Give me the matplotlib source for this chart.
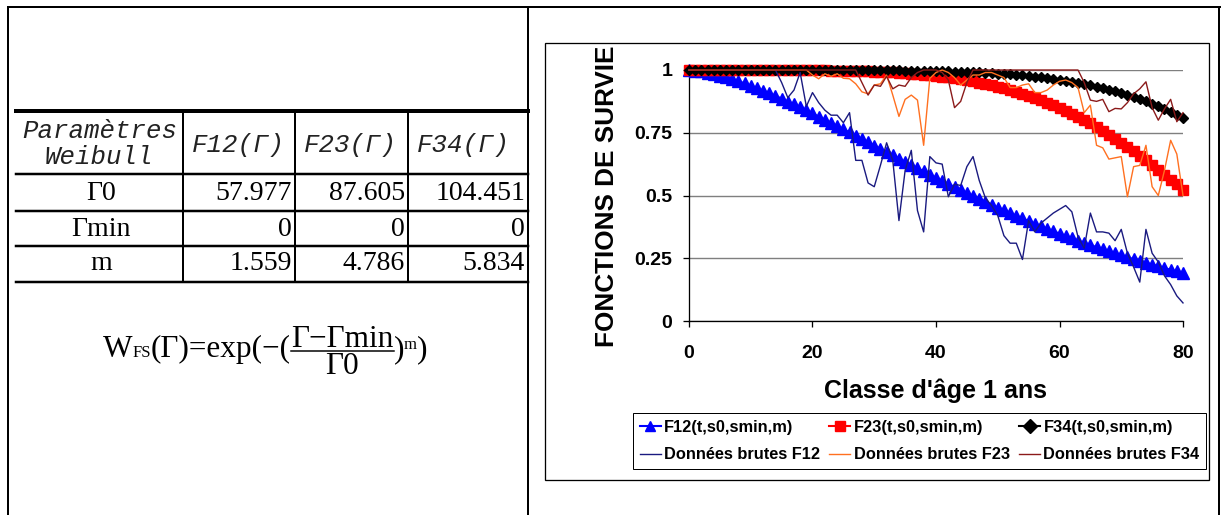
import matplotlib
matplotlib.use("Agg")
import matplotlib.pyplot as plt
from matplotlib.patches import Rectangle

W, H = 1221, 515

# Weibull parameter table
curve_names = ["F12(Γ)", "F23(Γ)", "F34(Γ)"]
gamma0 = [57.977, 87.605, 104.451]
gamma_min = [0, 0, 0]
shape_m = [1.559, 4.786, 5.834]

ages = list(range(0, 81))

# fitted Weibull survival, one value per age class
fit_f12 = [
    1.000, 0.998, 0.995, 0.990, 0.985, 0.978, 0.971, 0.964, 0.955, 0.947,
    0.937, 0.928, 0.918, 0.907, 0.897, 0.886, 0.874, 0.863, 0.851, 0.839,
    0.827, 0.814, 0.802, 0.789, 0.777, 0.764, 0.751, 0.738, 0.725, 0.712,
    0.699, 0.686, 0.673, 0.660, 0.647, 0.634, 0.621, 0.609, 0.596, 0.583,
    0.571, 0.558, 0.546, 0.534, 0.522, 0.510, 0.498, 0.486, 0.475, 0.463,
    0.452, 0.441, 0.430, 0.419, 0.409, 0.398, 0.388, 0.378, 0.368, 0.358,
    0.348, 0.339, 0.329, 0.320, 0.311, 0.303, 0.294, 0.286, 0.277, 0.269,
    0.261, 0.254, 0.246, 0.239, 0.232, 0.225, 0.218, 0.211, 0.204, 0.198,
    0.192]
fit_f23 = [
    1.000, 1.000, 1.000, 1.000, 1.000, 1.000, 1.000, 1.000, 1.000, 1.000,
    1.000, 1.000, 1.000, 1.000, 1.000, 1.000, 1.000, 1.000, 0.999, 0.999,
    0.999, 0.999, 0.999, 0.998, 0.998, 0.998, 0.997, 0.996, 0.996, 0.995,
    0.994, 0.993, 0.992, 0.991, 0.989, 0.988, 0.986, 0.984, 0.982, 0.979,
    0.977, 0.974, 0.971, 0.967, 0.964, 0.960, 0.955, 0.950, 0.945, 0.940,
    0.934, 0.928, 0.921, 0.914, 0.906, 0.898, 0.889, 0.880, 0.870, 0.860,
    0.849, 0.838, 0.826, 0.814, 0.800, 0.787, 0.773, 0.758, 0.743, 0.727,
    0.711, 0.694, 0.676, 0.659, 0.640, 0.622, 0.603, 0.583, 0.563, 0.544,
    0.523]
fit_f34 = [
    1.000, 1.000, 1.000, 1.000, 1.000, 1.000, 1.000, 1.000, 1.000, 1.000,
    1.000, 1.000, 1.000, 1.000, 1.000, 1.000, 1.000, 1.000, 1.000, 1.000,
    1.000, 1.000, 1.000, 1.000, 1.000, 1.000, 1.000, 1.000, 1.000, 0.999,
    0.999, 0.999, 0.999, 0.999, 0.999, 0.998, 0.998, 0.998, 0.997, 0.997,
    0.996, 0.996, 0.995, 0.994, 0.994, 0.993, 0.992, 0.991, 0.989, 0.988,
    0.986, 0.985, 0.983, 0.981, 0.979, 0.977, 0.974, 0.971, 0.968, 0.965,
    0.961, 0.958, 0.953, 0.949, 0.944, 0.939, 0.934, 0.928, 0.921, 0.915,
    0.908, 0.900, 0.892, 0.884, 0.875, 0.865, 0.855, 0.845, 0.834, 0.822,
    0.810]

# observed survival, one value per age class
raw_f12 = [1.0] * 15 + [
    0.95, 0.89, 0.92, 0.99, 0.855, 0.91, 0.87, 0.84, 0.82, 0.82,
    0.79, 0.83, 0.64, 0.64, 0.55, 0.535, 0.62, 0.71, 0.64, 0.40,
    0.60, 0.68, 0.44, 0.355, 0.655, 0.63, 0.625, 0.495, 0.545, 0.54,
    0.615, 0.655, 0.56, 0.49, 0.46, 0.42, 0.34, 0.31, 0.31, 0.245,
    0.40, 0.355, 0.39, 0.41, 0.43, 0.445, 0.46, 0.435, 0.335, 0.29,
    0.43, 0.355, 0.355, 0.35, 0.32, 0.365, 0.27, 0.215, 0.155, 0.365,
    0.27, 0.235, 0.18, 0.145, 0.10, 0.072]
raw_f23 = [1.0] * 20 + [
    0.98, 0.965, 0.985, 0.975, 0.985, 0.967, 0.965, 0.945, 0.913, 0.905,
    0.94, 0.945, 0.98, 0.90, 0.815, 0.883, 0.90, 0.88, 0.70, 0.967,
    0.99, 1.0, 0.99, 0.97, 0.94, 0.96, 0.98, 0.98, 0.99, 0.99,
    0.98, 0.97, 0.93, 0.93, 0.94, 0.945, 0.91, 0.91, 0.92, 0.94,
    0.955, 0.96, 0.95, 0.93, 0.83, 0.86, 0.70, 0.69, 0.645, 0.65,
    0.655, 0.495, 0.615, 0.62, 0.70, 0.535, 0.50, 0.60, 0.72, 0.665,
    0.50]
raw_f34 = [1.0] * 28 + [
    0.95, 0.90, 0.94, 0.935, 0.975, 0.925, 0.94, 0.935, 0.97, 0.99,
    1.0, 1.0, 1.0, 0.99, 0.96, 0.85, 0.875, 0.95] + [1.0] * 18 + [
    0.95, 0.88, 0.875, 0.883, 0.834, 0.847, 0.845, 0.87, 0.905, 0.925,
    0.953, 0.85, 0.80, 0.845, 0.883, 0.794, 0.83]

x_ticks = [0, 20, 40, 60, 80]
y_ticks = [0, 0.25, 0.5, 0.75, 1]
y_tick_labels = ["0", "0.25", "0.5", "0.75", "1"]

fig = plt.figure(figsize=(W / 100, H / 100), dpi=100)
fig.patch.set_facecolor("white")

# pixel-space layer for the frame, table and formula
bg = fig.add_axes([0, 0, 1, 1])
bg.set_xlim(0, W)
bg.set_ylim(H, 0)
bg.axis("off")
bg.set_zorder(0)

PT = 0.72  # points per pixel at 100 dpi


def seg(x0, y0, x1, y1, px=1.5):
    bg.plot([x0, x1], [y0, y1], color="black", lw=px * PT, solid_capstyle="projecting")


# outer frame
seg(8, 7, W, 7, 2)
seg(8, 7, 8, H, 2)
seg(528, 7, 528, H, 2)
seg(1219, 7, 1219, H, 2)

# table grid
tx0, tx1 = 16, 528
cols = [16, 183, 295, 408, 528]
rows = [111, 174, 211, 246, 282]
seg(tx0, rows[0], tx1, rows[0], 4)
for r in rows[1:]:
    seg(tx0, r, tx1, r, 2.5)
for c in cols[1:4]:
    seg(c, rows[0], c, rows[-1], 2)

mono = dict(family="Liberation Mono", style="italic", fontsize=18.5, color="#222222")
serif = dict(family="Liberation Serif", fontsize=20, color="black")

bg.text(100, 131, "Paramètres", ha="center", va="center", **mono)
bg.text(99, 157, "Weibull", ha="center", va="center", **mono)
for c, name in zip(cols[1:4], curve_names):
    bg.text(c + 9, 145, name, ha="left", va="center", **mono)

row_labels = ["Γ0", "Γmin", "m"]
row_values = [[f"{v:.3f}" for v in gamma0],
              [f"{v:g}" for v in gamma_min],
              [f"{v:.3f}" for v in shape_m]]
row_centers = [193, 229, 264]
for yc, lab, vals in zip(row_centers, row_labels, row_values):
    bg.text(101, yc, lab, ha="center", va="center", **serif)
    for c_right, v in zip(cols[2:], vals):
        bg.text(c_right - 3, yc, v, ha="right", va="center", **serif)

# survival function formula
renderer = fig.canvas.get_renderer()
big = dict(family="Liberation Serif", fontsize=22.5, color="black")
small = dict(family="Liberation Serif", fontsize=12, color="black")
base = 357
x = 103


def put(s, y, style):
    global x
    t = bg.text(x, y, s, ha="left", va="baseline", **style)
    x += t.get_window_extent(renderer).width
    return t


put("W", base, big)
put("FS", base, small)
put("(Γ)=exp(−(", base, big)
num = bg.text(x, 347, "Γ−Γmin", ha="left", va="baseline", **big)
nw = num.get_window_extent(renderer).width
seg(x, 351, x + nw, 351, 1.5)
bg.text(x + nw / 2, 374, "Γ0", ha="center", va="baseline", **big)
x += nw
put(")", base, big)
put("m", 349, small)
put(")", base, big)

# chart area frame
bg.add_patch(Rectangle((545, 43), 1209 - 545, 480 - 43, fill=False, ec="black", lw=1.3 * PT))

# survival chart
ax = fig.add_axes([689 / W, 1 - 321 / H, 494 / W, 251 / H])
ax.set_zorder(3)
ax.patch.set_visible(False)

l12, = ax.plot(ages, fit_f12, color="#0000FF", lw=1.5, marker="^", ms=8.6, mec="#0000FF", clip_on=False, zorder=3)
l23, = ax.plot(ages, fit_f23, color="#FF0000", lw=1.5, marker="s", ms=7.8, mec="#FF0000", clip_on=False, zorder=4)
l34, = ax.plot(ages, fit_f34, color="black", lw=1.5, marker="D", ms=5.6, mec="black", clip_on=False, zorder=5)
r12, = ax.plot(ages, raw_f12, color="#1A1A80", lw=1.0, clip_on=False, zorder=6)
r23, = ax.plot(ages, raw_f23, color="#FF7020", lw=1.0, clip_on=False, zorder=7)
r34, = ax.plot(ages, raw_f34, color="#8B1A1A", lw=1.0, clip_on=False, zorder=8)

ax.set_xlim(0, 80)
ax.set_ylim(0, 1)
ax.set_xticks(x_ticks)
ax.set_yticks(y_ticks)
ax.set_yticklabels(y_tick_labels)
ax.yaxis.grid(True, color="#7F7F7F", lw=1.4 * PT)
ax.set_axisbelow(True)
for s in ["top", "right"]:
    ax.spines[s].set_visible(False)
for s in ["left", "bottom"]:
    ax.spines[s].set_linewidth(1.3 * PT)
ax.tick_params(direction="out", length=4, width=1.3 * PT, labelsize=14)
ax.tick_params(axis="y", pad=8)
ax.tick_params(axis="x", pad=13)
for lab in ax.get_xticklabels() + ax.get_yticklabels():
    lab.set_fontweight("bold")
    lab.set_family("Liberation Sans")

bg.text(607, 196, "FONCTIONS DE SURVIE", rotation=90, ha="center", va="center",
        family="Liberation Sans", fontweight="bold", fontsize=18.8)
bg.text(935, 391, "Classe d'âge 1 ans", ha="center", va="center",
        family="Liberation Sans", fontweight="bold", fontsize=18)

handles = [l12, r12, l23, r23, l34, r34]
labels = ["F12(t,s0,smin,m)", "Données brutes F12",
          "F23(t,s0,smin,m)", "Données brutes F23",
          "F34(t,s0,smin,m)", "Données brutes F34"]
leg = fig.legend(handles, labels, ncol=3, loc="upper left",
                 bbox_to_anchor=(633 / W, 1 - 413 / H),
                 prop=dict(family="Liberation Sans", weight="bold", size=11.8),
                 frameon=True, fancybox=False, edgecolor="black", framealpha=1,
                 borderpad=0.4, handlelength=1.3, handletextpad=0.2,
                 columnspacing=0.55, labelspacing=0.78, borderaxespad=0)
leg.get_frame().set_linewidth(1.0 * PT)
leg.set_zorder(10)
for h in leg.legend_handles:
    if h.get_marker() not in (None, "None", ""):
        h.set_markersize(7)

fig.savefig("out.png", dpi=100)
